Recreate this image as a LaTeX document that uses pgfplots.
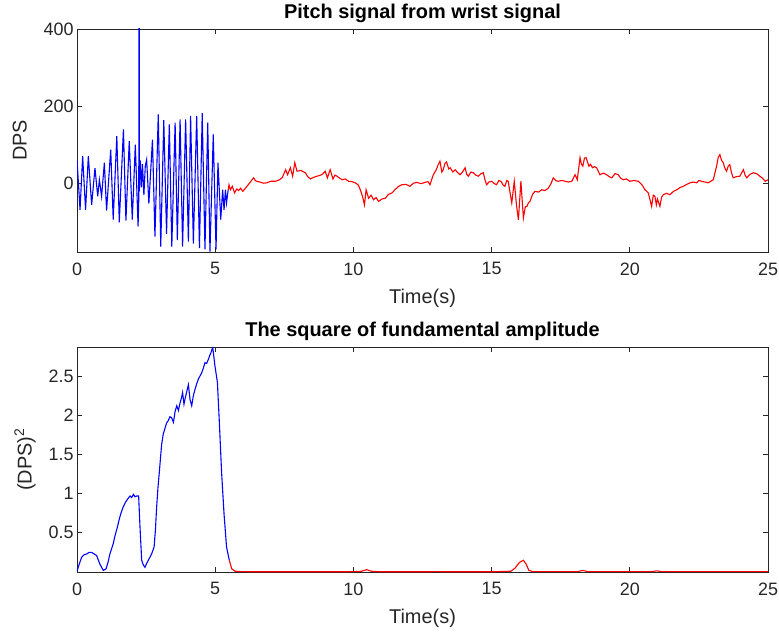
\documentclass[border=0pt]{standalone}
\usepackage{fontspec}
\setmainfont{Liberation Sans}
\usepackage{pgfplots}
\pgfplotsset{compat=1.18}
\definecolor{axgray}{rgb}{0.15,0.15,0.15}
\definecolor{mblue}{rgb}{0,0,1}
\definecolor{mred}{rgb}{1,0,0}
\pgfplotsset{mstyle/.style={
  width=691bp, scale only axis,
  xmin=0, xmax=25, xtick={0,5,10,15,20,25},
  tick align=inside, major tick length=5bp,
  axis line style={draw=axgray, line width=0.7bp},
  every tick/.style={axgray, line width=0.7bp},
  ticklabel style={font=\fontsize{18}{20}\selectfont, text=axgray},
  xticklabel style={yshift=-7bp},
  label style={font=\fontsize{20}{22}\selectfont, text=axgray},
  xlabel style={yshift=-7bp},
  title style={font=\fontsize{20}{22}\selectfont\bfseries, text=black, yshift=-3bp},
  xlabel={Time(s)},
  /pgf/number format/assume math mode=true,
  clip=true,
}}
\begin{document}
\begin{tikzpicture}
\path[use as bounding box] (0,0) rectangle (779bp,-636bp);
\begin{axis}[mstyle, at={(77bp,-252bp)}, anchor=south west, height=223bp,
  ymin=-177, ymax=400, ytick={0,200,400}, ylabel shift=10bp,
  ylabel={DPS}, title={Pitch signal from wrist signal}]
\addplot[mblue, line width=1.1bp] coordinates {
(0,62) (0.11,-68) (0.205,71) (0.31,-68) (0.41,71) (0.53,-55) (0.65,40) (0.75,-33)
(0.81,10) (0.89,-33) (0.99,54) (1.07,-70) (1.22,88) (1.31,-93) (1.44,123) (1.53,-100)
(1.68,140) (1.77,-96) (1.89,110) (2.00,-93) (2.11,101) (2.21,-111) (2.235,-40)
(2.24,450) (2.25,450) (2.255,-20) (2.29,60) (2.33,-10) (2.37,50) (2.42,-30) (2.47,45)
(2.52,62) (2.60,-52) (2.73,114) (2.82,-137) (2.94,179) (3.03,-163) (3.14,164) (3.24,-130)
(3.34,153) (3.43,-163) (3.55,158) (3.63,-146) (3.73,166) (3.82,-163) (3.93,166) (4.03,-150)
(4.11,175) (4.21,-155) (4.33,175) (4.43,-167) (4.53,182) (4.63,-170) (4.73,158) (4.81,-176)
(4.93,127) (5.03,-170) (5.10,54) (5.20,-93) (5.27,-16) (5.32,-68) (5.37,-16) (5.41,-50) (5.47,-16)
};
\addplot[mred, line width=1.1bp] coordinates {
(5.47,-16) (5.50,-3) (5.55,-16) (5.62,-7) (5.70,-24) (5.78,-14) (5.85,-18) (5.92,-12) (6.0,-20) (6.15,-7)
(6.39,15) (6.45,8) (6.5,6) (6.62,4) (6.75,1) (6.87,2) (7.0,6) (7.18,6) (7.30,9) (7.42,15) (7.55,36) (7.62,23) (7.72,41) (7.80,19)
(7.88,54) (7.96,32) (8.10,34) (8.26,28) (8.35,18) (8.44,12) (8.55,16) (8.68,19) (8.86,23) (8.98,32) (9.06,15) (9.16,36)
(9.26,12) (9.33,22) (9.41,19) (9.50,14) (9.59,10) (9.70,12) (9.83,6) (9.95,5) (10.07,2) (10.18,-4) (10.25,-16) (10.33,-33) (10.40,-55)
(10.46,-16) (10.55,-38) (10.64,-30) (10.73,-42) (10.82,-36) (10.91,-46) (11.03,-40) (11.15,-38) (11.27,-28) (11.4,-24) (11.5,-16) (11.64,-7)
(11.75,-3) (11.9,-2) (12.05,-7) (12.17,1) (12.29,3) (12.45,0) (12.59,3) (12.70,5) (12.77,-3) (12.89,23) (13.0,36) (13.06,48) (13.13,58)
(13.20,30) (13.25,36) (13.31,52) (13.37,56) (13.45,38) (13.5,41) (13.60,30) (13.68,36) (13.78,28) (13.86,23) (13.95,30) (14.04,41) (14.10,24) (14.16,19) (14.25,30) (14.34,28)
(14.43,22) (14.52,19) (14.62,26) (14.70,28) (14.76,10) (14.82,-3) (14.9,4) (15.0,6) (15.1,0) (15.18,-3) (15.26,8) (15.34,6) (15.42,-4) (15.48,-7) (15.55,8) (15.60,6)
(15.66,-20) (15.73,-50) (15.82,6) (15.90,-55) (15.97,-94) (16.06,6) (16.15,-89) (16.22,-60) (16.28,-59) (16.33,-50) (16.39,-46) (16.48,-28)
(16.57,-20) (16.7,-22) (16.81,-16) (16.93,-18) (17.05,-12) (17.15,0) (17.23,15) (17.32,8) (17.4,6) (17.55,8) (17.66,6) (17.78,4) (17.9,6) (18.02,23)
(18.10,10) (18.20,67) (18.25,50) (18.30,45) (18.36,66) (18.42,67) (18.52,45) (18.58,50) (18.65,41) (18.72,44) (18.80,41) (18.92,23) (19.04,27)
(19.16,23) (19.25,18) (19.35,15) (19.47,26) (19.58,23) (19.67,14) (19.76,10) (19.88,12) (20.0,6) (20.15,8) (20.31,6) (20.45,-4) (20.55,-16) (20.67,-24)
(20.79,-59) (20.85,-30) (20.91,-33) (20.96,-55) (21.0,-40) (21.09,-59) (21.15,-35) (21.21,-29) (21.33,-25) (21.45,-29) (21.58,-20) (21.7,-16) (21.82,-10) (21.94,-7)
(22.06,-2) (22.18,2) (22.30,4) (22.42,2) (22.5,8) (22.6,6) (22.72,4) (22.84,2) (22.93,6) (23.02,10) (23.14,45) (23.20,68) (23.26,75) (23.32,60) (23.38,54)
(23.44,40) (23.5,32) (23.56,45) (23.62,49) (23.68,28) (23.74,15) (23.86,18) (23.98,19) (24.05,28) (24.11,36) (24.17,22) (24.23,15) (24.35,24) (24.47,28) (24.6,25) (24.71,19)
(24.8,14) (24.9,6) (25,10)
};
\end{axis}
\begin{axis}[mstyle, at={(77bp,-572bp)}, anchor=south west, height=225bp,
  ymin=0, ymax=2.87, ytick={0.5,1,1.5,2,2.5}, ylabel shift=6bp,
  ylabel={(DPS)\textsuperscript{2}}, title={The square of fundamental amplitude}]
\addplot[mblue, line width=1.1bp] coordinates {
(0,0.01) (0.08,0.10) (0.17,0.19) (0.26,0.22) (0.35,0.23) (0.44,0.25) (0.53,0.25) (0.62,0.23) (0.71,0.21) (0.83,0.10) (0.95,0.02)
(1.05,0.04) (1.12,0.12) (1.19,0.23) (1.31,0.36) (1.38,0.47) (1.46,0.57) (1.52,0.66) (1.58,0.74) (1.66,0.82) (1.74,0.88) (1.83,0.93) (1.92,0.97)
(1.98,0.95) (2.04,0.99) (2.10,0.96) (2.16,0.97) (2.23,0.97) (2.28,0.57) (2.34,0.15) (2.40,0.09) (2.46,0.06) (2.52,0.11) (2.58,0.15)
(2.64,0.19) (2.70,0.23) (2.79,0.32) (2.84,0.55) (2.88,0.82) (2.93,1.08) (2.98,1.28) (3.02,1.45) (3.06,1.62) (3.12,1.76) (3.18,1.83) (3.24,1.90) (3.30,1.93)
(3.36,1.98) (3.42,1.97) (3.49,1.91) (3.55,2.05) (3.61,2.12) (3.67,2.06) (3.73,2.16) (3.78,2.22) (3.82,2.29) (3.87,2.14) (3.91,2.21) (3.97,2.30) (4.03,2.39)
(4.09,2.20) (4.15,2.12) (4.21,2.25) (4.27,2.33) (4.33,2.40) (4.39,2.46) (4.45,2.50) (4.51,2.54) (4.57,2.60) (4.63,2.67) (4.69,2.66) (4.75,2.71) (4.80,2.76) (4.84,2.79)
(4.91,2.87) (4.99,2.63) (5.08,2.42) (5.15,1.91) (5.23,1.28) (5.32,0.74) (5.41,0.32) (5.51,0.15)
};
\addplot[mred, line width=1.1bp] coordinates {
(5.51,0.15) (5.60,0.04) (5.72,0.01) (6.0,0.004) (8,0.003) (10,0.004) (10.3,0.01)
(10.48,0.03) (10.65,0.01) (11,0.003) (13,0.004) (15,0.003) (15.7,0.01) (15.85,0.05)
(16.0,0.12) (16.15,0.15) (16.25,0.10) (16.35,0.02) (16.5,0.004) (18.1,0.004) (18.3,0.02)
(18.5,0.004) (20.8,0.005) (20.97,0.015) (21.15,0.005) (23,0.004) (25,0.004)
};
\node[anchor=south west, text=gray, font=\fontsize{16}{18}\selectfont, inner sep=0pt] at (rel axis cs:0,1) [yshift=5bp] {×10\textsuperscript{4}};
\end{axis}
\end{tikzpicture}
\end{document}
